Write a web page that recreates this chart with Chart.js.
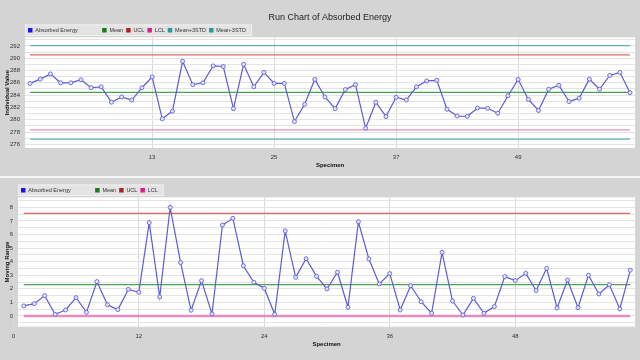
<!DOCTYPE html>
<html>
<head>
<meta charset="utf-8">
<script src="https://cdn.jsdelivr.net/npm/chart.js@4.4.1/dist/chart.umd.min.js"></script>
<style>
	html, body { margin: 0; padding: 0; width: 640px; height: 360px; overflow: hidden; background: #d4d4d4; }
	#runBox { position: absolute; left: 0; top: 0; }
	#sep { position: absolute; left: 0; top: 176px; width: 640px; height: 2px; background: #f7f7f7; }
	#mrBox { position: absolute; left: 0; top: 178px; }
</style>
</head>
<body>
<div id="runBox"><canvas id="runChart" width="640" height="176"></canvas></div>
<div id="sep"></div>
<div id="mrBox"><canvas id="mrChart" width="640" height="182"></canvas></div>
<script>
// Individual values (specimen 1..60)
const energy = [
	285.9, 286.6, 287.45, 286.0, 286.0, 286.5, 285.2, 285.35, 282.85, 283.7,
	283.2, 285.2, 286.95, 280.15, 281.4, 289.5, 285.7, 286.0, 288.75, 288.65,
	281.8, 289.0, 285.35, 287.7, 285.9, 285.9, 279.7, 282.5, 286.55, 283.7,
	281.8, 284.9, 285.7, 278.6, 282.85, 280.5, 283.65, 283.2, 285.35, 286.3,
	286.4, 281.7, 280.6, 280.55, 281.9, 281.85, 281.05, 283.9, 286.55, 283.3,
	281.5, 284.95, 285.6, 282.95, 283.5, 286.6, 284.95, 287.2, 287.7, 284.4
];
// Moving ranges (plotted at 1..59)
const movingRange = [
	0.74, 0.91, 1.5, 0.12, 0.44, 1.35, 0.27, 2.53, 0.83, 0.47,
	1.96, 1.74, 6.87, 1.4, 8.0, 3.93, 0.42, 2.6, 0.15, 6.7,
	7.19, 3.7, 2.48, 2.04, 0.12, 6.26, 2.85, 4.22, 2.92, 1.99,
	3.22, 0.64, 6.94, 4.2, 2.36, 3.12, 0.44, 2.23, 1.05, 0.2,
	4.69, 1.1, 0.07, 1.3, 0.2, 0.69, 2.9, 2.6, 3.14, 1.87,
	3.51, 0.59, 2.65, 0.61, 3.0, 1.62, 2.3, 0.52, 3.37
];

const runLimitNames = [ 'Mean', 'UCL', 'LCL', 'Mean+3STD', 'Mean-3STD' ];
const runLimitValues = [ 284.45, 290.55, 278.35, 292.05, 276.85 ];
const mrLimitNames = [ 'Mean', 'UCL', 'LCL' ];
const mrLimitValues = [ 2.31, 7.56, 0 ];

const runXTicks = [ 13, 25, 37, 49 ];
const runYTicks = [ 276, 278, 280, 282, 284, 286, 288, 290, 292 ];
const mrXTicks = [ 0, 12, 24, 36, 48 ];
const mrYTicks = [ 0, 1, 2, 3, 4, 5, 6, 7, 8 ];

const FONT = '"Liberation Sans", Arial, sans-serif';
const lineColor = { 'Mean': '#4f9f4f', 'UCL': '#e06464', 'LCL': '#e58dbf', 'Mean+3STD': '#62b4b4', 'Mean-3STD': '#62b4b4' };
const swatchColor = { 'Mean': '#1d7a1d', 'UCL': '#b02222', 'LCL': '#d81f8e', 'Mean+3STD': '#279b9b', 'Mean-3STD': '#279b9b' };

function legendLabels( chart ){
	return chart.data.datasets.map( (ds, i) => ({
		text: ds.label + ( i === 0 ? ' '.repeat(14) : '' ),
		fillStyle: ds.backgroundColor,
		strokeStyle: ds.backgroundColor,
		lineWidth: 0,
		hidden: false,
		datasetIndex: i,
		fontColor: '#333'
	}));
}

// white plot panel + grey legend strip
const panelPlugin = {
	id: 'panel',
	beforeDraw( chart ){
		const { ctx, chartArea: a, legend } = chart;
		ctx.save();
		ctx.fillStyle = '#ffffff';
		ctx.fillRect( a.left, a.top, a.right - a.left, a.bottom - a.top );
		const boxes = legend.legendHitBoxes;
		if( boxes && boxes.length ){
			const first = boxes[0], last = boxes[boxes.length - 1];
			const x0 = first.left - 3, y0 = first.top - 3;
			const w = last.left + last.width + 6 - x0, h = first.height + 6;
			ctx.fillStyle = '#e3e3e3';
			ctx.fillRect( x0, y0, w, h );
			ctx.strokeStyle = '#f0f0f0';
			ctx.lineWidth = 1;
			ctx.strokeRect( x0 + 0.5, y0 + 0.5, w - 1, h - 1 );
		}
		ctx.restore();
	}
};

function seriesDataset( label, values, start ){
	return {
		label: label,
		data: values.map( (v, i) => ({ x: i + start, y: v }) ),
		borderColor: '#5b5bd6',
		backgroundColor: '#1818e6',
		pointBackgroundColor: '#e6e6fb',
		pointBorderColor: '#6262d8',
		pointBorderWidth: 0.9,
		pointRadius: 2,
		borderWidth: 1.2,
		tension: 0
	};
}

function limitDatasets( names, values, x0, x1, widths ){
	return names.map( (name, k) => ({
		label: name,
		data: [ { x: x0, y: values[k] }, { x: x1, y: values[k] } ],
		borderColor: lineColor[name],
		backgroundColor: swatchColor[name],
		borderWidth: widths ? widths[k] : 1.2,
		pointRadius: 0
	}));
}

const tickFont = { family: FONT, size: 6 };
const legendFont = { family: FONT, size: 5.5 };
const axisTitleFont = { family: FONT, size: 6, weight: 'bold' };

new Chart( document.getElementById('runChart'), {
	type: 'line',
	data: {
		datasets: [ seriesDataset( 'Absorbed Energy', energy, 1 ) ]
			.concat( limitDatasets( runLimitNames, runLimitValues, 1, energy.length ) )
	},
	options: {
		responsive: false,
		animation: false,
		events: [],
		layout: { padding: { left: 0, right: 4, top: 0, bottom: 0 } },
		plugins: {
			title: {
				display: true, fullSize: false,
				text: 'Run Chart of Absorbed Energy',
				color: '#222',
				font: { family: FONT, size: 9, weight: 'normal' },
				padding: { top: 12.6, bottom: 1.1 }
			},
			legend: {
				display: true, position: 'top', align: 'start', fullSize: false, maxHeight: 12.8,
				labels: { boxWidth: 4.5, boxHeight: 4.5, padding: 3, color: '#333', font: legendFont, generateLabels: legendLabels }
			},
			tooltip: { enabled: false }
		},
		scales: {
			x: {
				type: 'linear', min: 0.5, max: 60.5,
				afterBuildTicks: s => { s.ticks = runXTicks.map( v => ({ value: v }) ); },
				afterFit: s => { s.height = 28; },
				grid: { color: '#dadada', drawTicks: false },
				border: { display: false },
				ticks: { autoSkip: false, maxRotation: 0, padding: 6, color: '#333', font: tickFont },
				title: { display: true, text: 'Specimen', color: '#111', font: axisTitleFont, padding: { top: 0, bottom: 6.7 } }
			},
			y: {
				min: 275.4, max: 293.4,
				afterBuildTicks: s => {
					const t = [];
					for( let v = 276; v <= 293; v++ ) t.push({ value: v });
					s.ticks = t;
				},
				afterFit: s => { s.width = 25; },
				grid: { color: '#e4e4e4', drawTicks: false },
				border: { display: false },
				ticks: { autoSkip: false, padding: 5, color: '#333', font: tickFont, callback: v => runYTicks.includes(v) ? String(v) : '' },
				title: { display: true, text: 'Individual Value', color: '#111', font: axisTitleFont, padding: { top: 3.7, bottom: 0 } }
			}
		}
	},
	plugins: [ panelPlugin ]
});

new Chart( document.getElementById('mrChart'), {
	type: 'line',
	data: {
		datasets: [ seriesDataset( 'Absorbed Energy', movingRange, 1 ) ]
			.concat( limitDatasets( mrLimitNames, mrLimitValues, 1, movingRange.length, [ 1.2, 1.2, 2.5 ] ) )
	},
	options: {
		responsive: false,
		animation: false,
		events: [],
		layout: { padding: { left: 0, right: 4, top: 6.5, bottom: 0 } },
		plugins: {
			title: { display: false },
			legend: {
				display: true, position: 'top', align: 'start', fullSize: false, maxHeight: 12.8,
				labels: { boxWidth: 4.5, boxHeight: 4.5, padding: 3, color: '#333', font: legendFont, generateLabels: legendLabels }
			},
			tooltip: { enabled: false }
		},
		scales: {
			x: {
				type: 'linear', min: 0.45, max: 59.46,
				afterBuildTicks: s => { s.ticks = mrXTicks.map( v => ({ value: v }) ); },
				afterFit: s => { s.height = 33.3; },
				grid: { color: '#dadada', drawTicks: false },
				border: { display: false },
				ticks: { autoSkip: false, maxRotation: 0, padding: 6, color: '#333', font: tickFont },
				title: { display: true, text: 'Specimen', color: '#111', font: axisTitleFont, padding: { top: 0, bottom: 11.7 } }
			},
			y: {
				min: -0.79, max: 8.74,
				afterBuildTicks: s => {
					const t = [];
					for( let v = -0.5; v <= 8.5; v += 0.5 ) t.push({ value: v });
					s.ticks = t;
				},
				afterFit: s => { s.width = 18; },
				grid: { color: '#e4e4e4', drawTicks: false },
				border: { display: false },
				ticks: { autoSkip: false, padding: 5, color: '#333', font: tickFont, callback: v => mrYTicks.includes(v) ? String(v) : '' },
				title: { display: true, text: 'Moving Range', color: '#111', font: axisTitleFont, padding: { top: 3.7, bottom: 0 } }
			}
		}
	},
	plugins: [ panelPlugin ]
});
</script>
</body>
</html>
